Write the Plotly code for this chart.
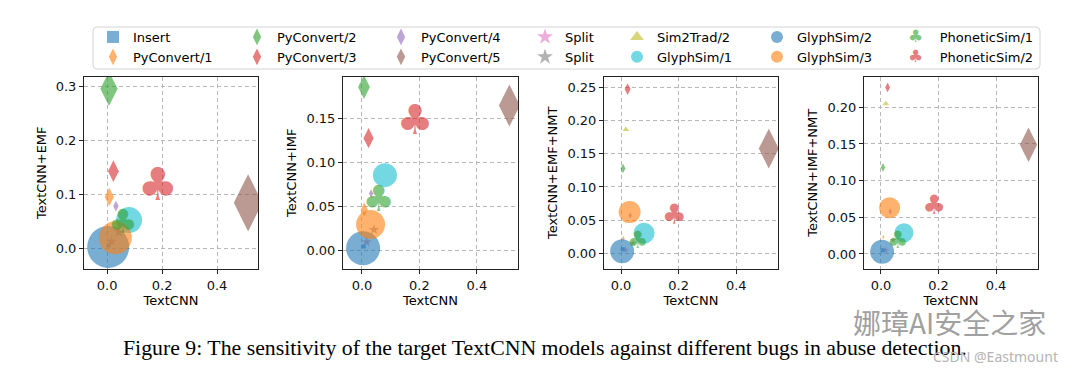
import plotly.graph_objects as go

# The page places the figure 8 px from the window's top-left corner.
OFF = 8
W, H = 1080 - OFF, 371 - OFF

series = ["Insert", "PyConvert/1", "PyConvert/2", "PyConvert/3", "PyConvert/4",
          "PyConvert/5", "Split", "Split", "Sim2Trad/2", "GlyphSim/1",
          "GlyphSim/2", "GlyphSim/3", "PhoneticSim/1", "PhoneticSim/2"]
colors = ["#1f77b4", "#ff7f0e", "#2ca02c", "#d62728", "#9467bd", "#8c564b",
          "#e377c2", "#7f7f7f", "#bcbd22", "#17becf", "#1f77b4", "#ff7f0e",
          "#2ca02c", "#d62728"]
symbols = ["square", "diamond-tall", "diamond-tall", "diamond-tall", "diamond-tall",
           "diamond-tall", "star", "star", "triangle-up", "circle", "circle",
           "circle", "club", "club"]

# x: sensitivity on plain TextCNN (shared by all panels)
textcnn = [0.006, 0.008, 0.007, 0.023, 0.032, 0.513, 0.016, 0.042, 0.017,
           0.080, 0.004, 0.030, 0.058, 0.185]

# y: sensitivity on the defended models
emf = [0.005, 0.095, 0.296, 0.143, 0.078, 0.084, 0.012, 0.030, 0.010,
       0.052, 0.002, 0.019, 0.043, 0.110]
imf = [0.005, 0.047, 0.186, 0.128, 0.065, 0.165, 0.010, 0.024, 0.010,
       0.086, 0.003, 0.030, 0.055, 0.144]
emf_nmt = [0.006, 0.022, 0.128, 0.248, 0.057, 0.158, 0.005, 0.015, 0.187,
           0.030, 0.003, 0.062, 0.017, 0.054]
imf_nmt = [0.005, 0.023, 0.118, 0.227, 0.058, 0.149, 0.005, 0.019, 0.205,
           0.029, 0.003, 0.063, 0.016, 0.064]

# bubble magnitudes (visual extent of each mark)
emf_size = [4, 17, 32, 20, 10, 53, 8, 8, 4, 26, 42, 33, 25, 34]
imf_size = [4, 13, 22, 19, 8, 39, 8, 8, 4, 24, 34, 29, 27, 31]
emf_nmt_size = [4, 5, 9, 11, 6, 37, 5, 5, 6, 21, 24, 22, 18, 21]
imf_nmt_size = [4, 4, 8, 9, 6, 32, 5, 5, 6, 19, 24, 21, 18, 20]

y_titles = ["TextCNN+EMF", "TextCNN+IMF", "TextCNN+EMF+NMT", "TextCNN+IMF+NMT"]
x_title = "TextCNN"
caption = "Figure 9: The sensitivity of the target TextCNN models against different bugs in abuse detection."
watermark = "\u5a1c\u748bAI\u5b89\u5168\u4e4b\u5bb6"
credit = "CSDN @Eastmount"

ALPHA = 0.6
FONT = "DejaVu Sans"


def X(px):
    return (px - OFF) / W


def Y(py):
    return 1 - (py - OFF) / H


def rgba(hexc, a):
    h = hexc.lstrip("#")
    return "rgba(%d,%d,%d,%s)" % (int(h[0:2], 16), int(h[2:4], 16), int(h[4:6], 16), a)


def marker_size(sym, ext):
    if sym == "diamond-tall":
        return ext / 1.3
    return ext


panels = [
    dict(y=emf, s=emf_size, xr=[-0.084, 0.549], yr=[-0.039, 0.319], dt=0.1, fmt=".1f", px=(84, 258)),
    dict(y=imf, s=imf_size, xr=[-0.066, 0.543], yr=[-0.0206, 0.198], dt=0.05, fmt=".2f", px=(343, 518)),
    dict(y=emf_nmt, s=emf_nmt_size, xr=[-0.059, 0.545], yr=[-0.024, 0.267], dt=0.05, fmt=".2f", px=(604, 778)),
    dict(y=imf_nmt, s=imf_nmt_size, xr=[-0.059, 0.546], yr=[-0.0205, 0.242], dt=0.05, fmt=".2f", px=(864, 1038)),
]

fig = go.Figure()
ydom = [Y(269), Y(76.5)]

for i, p in enumerate(panels):
    sfx = "" if i == 0 else str(i + 1)
    for j, name in enumerate(series):
        leg = "legend" if j // 2 == 0 else "legend%d" % (j // 2 + 1)
        if symbols[j] == "club":
            fig.add_trace(go.Scatter(
                x=[textcnn[j]], y=[p["y"][j]], mode="text", text=["\u2663"],
                textposition="middle center",
                textfont=dict(family=FONT, size=p["s"][j] / 0.75, color=rgba(colors[j], ALPHA)),
                showlegend=False, hoverinfo="skip", name=name,
                xaxis="x" + sfx, yaxis="y" + sfx))
        else:
            fig.add_trace(go.Scatter(
                x=[textcnn[j]], y=[p["y"][j]], mode="markers", name=name,
                marker=dict(symbol=symbols[j], size=marker_size(symbols[j], p["s"][j]),
                            color=colors[j], opacity=ALPHA, line=dict(width=0)),
                legend=leg, showlegend=(i == 0),
                xaxis="x" + sfx, yaxis="y" + sfx))

# legend entries for the club-shaped series
for j in (12, 13):
    lbl = ('<span style="font-size:17px;color:%s">\u2663</span>' % rgba(colors[j], ALPHA)
           + "&nbsp;&nbsp;&nbsp;&nbsp;" + series[j])
    fig.add_trace(go.Scatter(x=[None], y=[None], mode="markers", name=lbl,
                             marker=dict(color="rgba(0,0,0,0)", size=1),
                             legend="legend7", showlegend=True, hoverinfo="skip"))

layout = dict(
    width=W, height=H, margin=dict(l=0, r=0, t=0, b=0, autoexpand=False),
    paper_bgcolor="white", plot_bgcolor="white",
    font=dict(family=FONT, size=13, color="black"),
    showlegend=True,
)

col_marker_x = [111, 255, 399, 543, 635, 775, 916]
for k, mx in enumerate(col_marker_x):
    key = "legend" if k == 0 else "legend%d" % (k + 1)
    lx = mx - 18
    if k == 6:
        lx = 868
    layout[key] = dict(x=X(lx), y=Y(22), xanchor="left", yanchor="top",
                       bgcolor="rgba(0,0,0,0)", borderwidth=0,
                       font=dict(family=FONT, size=13, color="black"),
                       itemsizing="constant", tracegroupgap=0, orientation="v")

for i, p in enumerate(panels):
    sfx = "" if i == 0 else str(i + 1)
    xk = "xaxis" + sfx
    yk = "yaxis" + sfx
    common = dict(showgrid=True, gridcolor="#b8b8b8", griddash="4px,3px", gridwidth=1,
                  showline=True, mirror=True, linecolor="#222", linewidth=1,
                  ticks="outside", ticklen=4, tickcolor="#222",
                  tickfont=dict(family=FONT, size=13, color="#111"), zeroline=False)
    layout[xk] = dict(domain=[X(p["px"][0]), X(p["px"][1])], range=p["xr"],
                      anchor="y" + sfx, tickvals=[0, 0.2, 0.4], tickformat=".1f",
                      title=dict(text=x_title, standoff=4, font=dict(size=13)), **common)
    layout[yk] = dict(domain=ydom, range=p["yr"], anchor="x" + sfx,
                      dtick=p["dt"], tick0=0, tickformat=p["fmt"],
                      title=dict(text=y_titles[i], standoff=6, font=dict(size=13)), **common)

# rounded legend frame
x0, x1, y0, y1 = X(93), X(1040), Y(69), Y(27)
rx, ry = 4 / W, 4 / H
frame = ("M {a},{b} L {c},{b} Q {x1},{b} {x1},{d} L {x1},{e} Q {x1},{y1} {c},{y1} "
         "L {a},{y1} Q {x0},{y1} {x0},{e} L {x0},{d} Q {x0},{b} {a},{b} Z").format(
    a=x0 + rx, b=y0, c=x1 - rx, d=y0 + ry, e=y1 - ry, x0=x0, x1=x1, y1=y1)
layout["shapes"] = [dict(type="path", xref="paper", yref="paper", path=frame,
                         line=dict(color="#d4d4d4", width=1), fillcolor="rgba(255,255,255,0)",
                         layer="below")]

layout["annotations"] = [
    dict(text=caption, x=X(544.5), y=Y(348), xref="paper", yref="paper",
         showarrow=False, xanchor="center", yanchor="middle",
         font=dict(family="Liberation Serif", size=21.8, color="black")),
    dict(text=watermark, x=X(949), y=Y(322),
         xref="paper", yref="paper", showarrow=False, xanchor="center", yanchor="middle",
         font=dict(family="Noto Sans CJK SC", size=28, color="#a0a0a0")),
    dict(text=credit, x=X(995), y=Y(356),
         xref="paper", yref="paper", showarrow=False, xanchor="center", yanchor="middle",
         font=dict(family="Noto Sans", size=14, color="#b4b4b4")),
]

fig.update_layout(**layout)
fig.write_html("out.html")
